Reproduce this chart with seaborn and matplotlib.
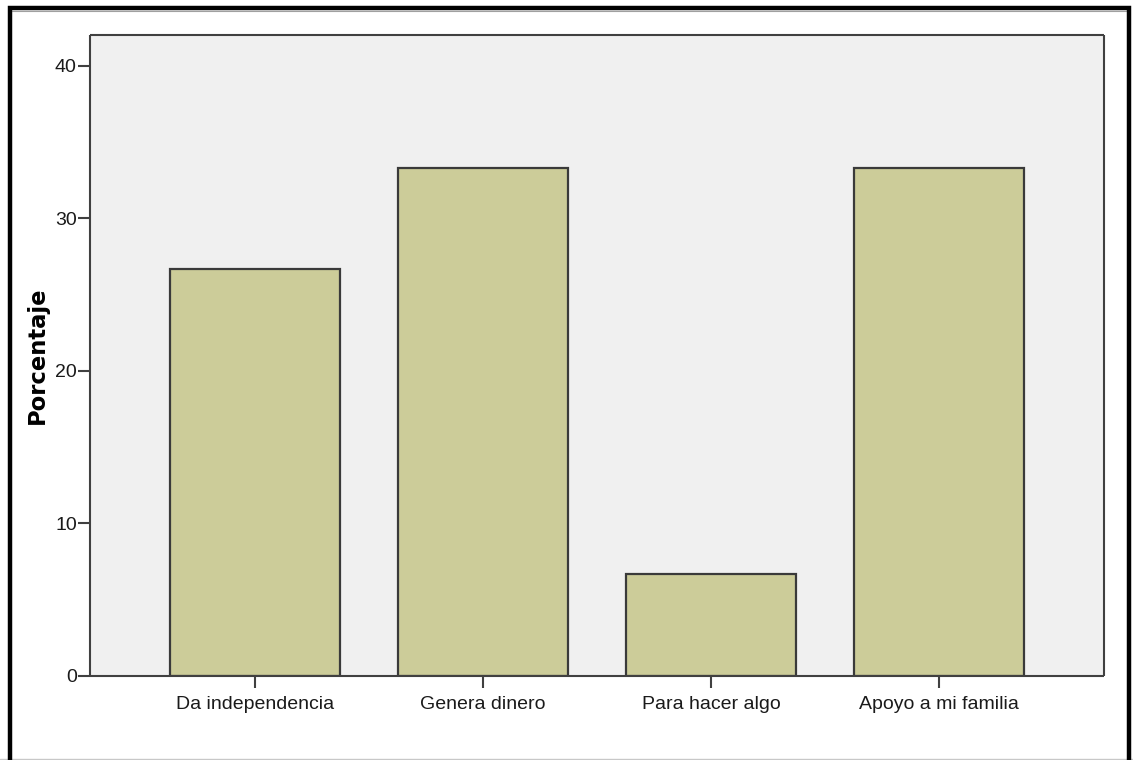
import matplotlib
matplotlib.use("Agg")
import matplotlib.pyplot as plt
import seaborn as sns
import pandas as pd
from matplotlib.patches import Rectangle
from matplotlib.lines import Line2D

categories = ["Da independencia", "Genera dinero", "Para hacer algo", "Apoyo a mi familia"]
percentages = [26.67, 33.33, 6.67, 33.33]
y_ticks = [0, 10, 20, 30, 40]

df = pd.DataFrame({"cat": categories, "pct": percentages})

sns.set_theme(style="white")
plt.rcParams['font.family'] = ['Liberation Sans', 'DejaVu Sans']

W, H = 1133, 760
fig = plt.figure(figsize=(W / 100, H / 100), dpi=100)
fig.patch.set_facecolor("white")
ax = fig.add_axes([90 / W, 1 - 676 / H, (1104 - 90) / W, (676 - 35) / H])
ax.set_facecolor("#F0F0F0")

sns.barplot(data=df, x="cat", y="pct", ax=ax, color="#CCCC99", saturation=1,
            width=0.746, edgecolor="#3a3a3a", linewidth=1.6, errorbar=None)

ax.set_xlim(-0.724, 3.724)
ax.set_ylim(0, 42.03)
ax.set_yticks(y_ticks)
ax.set_yticklabels([str(t) for t in y_ticks])
ax.set_xlabel("")
ax.set_ylabel("Porcentaje", fontsize=16.3, fontweight="bold", color="black",
              labelpad=4.5, family=["DejaVu Sans"])

for s in ax.spines.values():
    s.set_color("#404040")
    s.set_linewidth(1.5)
    s.set_visible(True)
    s.set_capstyle("butt")

ax.tick_params(axis="y", direction="out", length=8.5, width=1.5, color="#404040",
               labelsize=14, labelcolor="#1a1a1a", pad=1, left=True, right=False)
ax.tick_params(axis="x", direction="out", length=8.5, width=1.5, color="#404040",
               labelsize=14, labelcolor="#1a1a1a", pad=6, bottom=True, top=False)
ax.minorticks_off()

# outer frame
fig.patches.append(Rectangle((9.5 / W, -0.05), (1128.5 - 9.5) / W, 1.05 - 7.5 / H,
                             transform=fig.transFigure, fill=False, edgecolor="black",
                             linewidth=3.2, zorder=10))
fig.lines.append(Line2D([12 / W, 1126 / W], [1 - 11 / H, 1 - 11 / H], transform=fig.transFigure,
                        color="#a0a0a0", linewidth=0.8))
fig.lines.append(Line2D([0, 1], [1 - 758.5 / H, 1 - 758.5 / H], transform=fig.transFigure,
                        color="#c8c8c8", linewidth=1.0))

fig.savefig("out.png", dpi=100)
